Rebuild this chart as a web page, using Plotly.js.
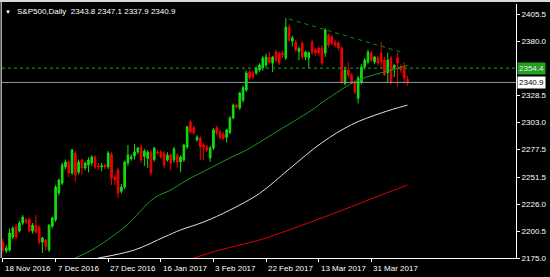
<!DOCTYPE html>
<html>
<head>
<meta charset="utf-8">
<script src="https://cdn.plot.ly/plotly-3.0.1.min.js"></script>
<style>html,body{margin:0;padding:0;background:#000;}#chart{width:550px;height:277px;}</style>
</head>
<body>
<div id="chart"></div>
<script>
// ---- Data ----
const opens = [2190,2181.6,2182.6,2194.8,2205,2200.5,2208,2211,2211.8,2200.5,
  2206,2204,2190,2192,2182.6,2205,2211,2236.4,2245.8,2261,
  2265.7,2255.3,2274,2256,2267.6,2260,2262.8,2264.7,2270.4,2262,
  2261,2262.8,2261,2273,2251.5,2258.1,2238,2242,2264.7,2269,
  2271.4,2275.1,2279.9,2271,2269,2275,2268,2275,2275.1,2274.2,
  2267.6,2272.3,2267.6,2272,2265.7,2267.6,2279.9,2303.5,2298,2286.5,
  2288.4,2281.8,2280,2269.5,2279,2298,2294,2292,2289,2293.5,
  2307.3,2319.5,2316.7,2324,2333.7,2350.7,2350,2349.8,2352.6,2354.5,
  2357.3,2364.8,2359,2369.6,2368.6,2368.7,2363.9,2393.2,2380,2379,
  2370,2378,2364.9,2364,2379,2371.5,2373.4,2373.4,2368.6,2385.7,
  2383.8,2379,2378.1,2373.4,2340,2352.6,2347.9,2341.3,2326,2341.3,
  2355.4,2360.2,2368.7,2360.2,2364,2368.7,2362,2350,2363.9,2355,
  2363.9,2356,2354.5,2343.8];
const highs = [2193,2187,2203,2205,2207,2210,2215.6,2213,2213,2208,
  2215.6,2206,2195,2193,2207,2214,2244,2250,2265,2268,
  2268,2278,2276,2268,2269,2266,2270,2272,2272,2265,
  2265,2264,2276,2275,2254,2260,2245,2267,2281.8,2273,
  2282.7,2280,2282,2278,2277,2277,2280,2277,2277,2276,
  2275,2274,2280,2274,2272,2283,2300,2305,2300,2291,
  2290,2284,2282,2281,2298,2300,2296,2294,2297,2309,
  2321,2321,2332,2338,2352,2353,2352,2356,2359,2366,
  2368,2369.6,2366,2372,2370,2371,2401.7,2396,2385,2381,
  2374.5,2380,2371,2370,2381,2373,2375,2376,2392,2387,
  2386,2381,2380,2375,2356,2360.2,2350,2343,2347,2358,
  2364,2372,2371,2366,2366,2379,2365,2368.7,2366,2358,
  2369,2358,2360,2347.1];
const lows = [2180,2179.7,2181,2193,2193,2199,2206,2207,2199,2198,
  2198,2188,2179.7,2182,2180.7,2203,2209,2234,2244,2259,
  2251.5,2253,2247,2254,2253.4,2258,2256,2262,2259,2258,
  2257,2259,2259,2244,2244,2231.7,2236,2240,2262,2267,
  2268,2273,2265,2262,2260,2253,2266,2273,2269,2260,
  2266,2258,2265,2260,2256,2266,2278,2292,2291,2285,
  2267.6,2267.6,2275,2266,2277,2291,2287,2287,2284,2292,
  2306,2316,2315,2322,2332,2343,2344,2348,2351,2352,
  2355,2358,2350.7,2360,2357.3,2364,2362,2379,2375,2370,
  2362,2363,2362,2354.5,2367,2366,2366,2357,2365,2374,
  2376,2374,2371,2339,2338,2345,2339,2329.9,2321,2339,
  2353,2358,2360,2358,2357,2354.5,2347,2341.3,2339,2346,
  2337,2350,2340,2337.9];
const closes = [2182.6,2184.4,2198.6,2203.3,2194.8,2208,2213.7,2209,2200.5,2206,
  2199.5,2190,2194,2186,2206,2212.8,2242,2248.7,2262.8,2265.7,
  2255.3,2277,2253.4,2265.7,2260,2264.7,2267.6,2270.4,2261,2261,
  2262,2261,2274.2,2250.6,2248.7,2236.4,2242,2265.7,2272.3,2270.4,
  2275.2,2278.9,2267.6,2276,2275,2255.3,2278.9,2274.2,2270.4,2262.8,
  2272.3,2264.7,2278,2265.7,2270.4,2281.8,2298.8,2294,2293,2289.3,
  2279.9,2279.9,2277,2279,2296,2293,2289,2288,2296,2307.3,
  2319.5,2318,2330.9,2336,2349.8,2345,2346,2354.5,2357.3,2363.9,
  2364.8,2360,2364.8,2362,2359.2,2366.8,2393.2,2380.9,2383,2371.5,
  2373,2365,2369.6,2369,2369.6,2368.7,2368.7,2359.2,2390.4,2376.2,
  2378.1,2376,2373.4,2341.3,2352.6,2347.9,2341.3,2331.8,2345,2355.4,
  2362,2369.6,2362,2364.9,2359.2,2360.2,2347.9,2362,2341.3,2357,
  2359.2,2352.6,2345,2340.9];

// Moving averages (bar index, value)
const maGreenX = [22,27,37,46,51,56,63,69,74,82,94,98,108,118,123];
const maGreenY = [2175,2182.6,2204.3,2231.7,2239.2,2248.7,2260,2269.5,2277,2292,2315,2324,2343,2352.5,2357];
const maWhiteX = [29,40,49,54,61,69,78,87,97,106,115,123];
const maWhiteY = [2175,2182.6,2194.8,2201.5,2209,2220.3,2236,2259,2284,2301,2312,2319.5];
const maRedX = [57,66,78,91,103,115,123];
const maRedY = [2174,2182.6,2192,2206,2220,2234.5,2244];

// Trendline anchors
const trendX = [87,122];
const trendY = [2400.8,2368.7];

// Levels
const levelLine = 2354.4;
const bidLine = 2340.9;

// Axis ticks
const xTickIdx = [0,16,32,48,64,80,96,112];
const xTickText = ['18 Nov 2016','7 Dec 2016','27 Dec 2016','16 Jan 2017','3 Feb 2017','22 Feb 2017','13 Mar 2017','31 Mar 2017'];
const yTickVals = [2175.0,2200.5,2226.0,2251.5,2277.5,2303.0,2328.5,2380.0,2405.5];

const titleText = 'S&P500,Daily  2343.8 2347.1 2337.9 2340.9';

// ---- Build ----
const idx = opens.map((_, i) => i);
const FONT = 'Liberation Sans, Arial, sans-serif';

const traces = [
  {type:'scatter', mode:'lines', x:maRedX, y:maRedY, line:{color:'#e00000', width:1, shape:'spline'}, hoverinfo:'skip'},
  {type:'scatter', mode:'lines', x:maWhiteX, y:maWhiteY, line:{color:'#e4dcea', width:1, shape:'spline'}, hoverinfo:'skip'},
  {type:'scatter', mode:'lines', x:maGreenX, y:maGreenY, line:{color:'#1a9a1a', width:1, shape:'spline'}, hoverinfo:'skip'},
  {type:'scatter', mode:'lines', x:trendX, y:trendY, line:{color:'#109010', width:1, dash:'4px,4px'}, hoverinfo:'skip'},
  {type:'candlestick', x:idx, open:opens, high:highs, low:lows, close:closes,
   increasing:{line:{color:'#10e010', width:1}, fillcolor:'#10e010'},
   decreasing:{line:{color:'#f00000', width:1}, fillcolor:'#f00000'},
   whiskerwidth:0, hoverinfo:'skip'}
];

const xLabelAnns = xTickIdx.map((v, i) => ({
  xref:'x', yref:'paper', x:v, y:-0.04, xanchor:'left', yanchor:'middle', xshift:0,
  text:xTickText[i], showarrow:false, font:{family:FONT, color:'#ffffff', size:8}
}));

const layout = {
  width:550, height:277,
  margin:{l:2, r:34, t:4, b:19},
  paper_bgcolor:'#000', plot_bgcolor:'#000',
  showlegend:false,
  font:{family:FONT, color:'#ffffff', size:8},
  xaxis:{range:[-0.3,156], tickvals:xTickIdx, showticklabels:false,
    ticks:'outside', ticklen:3, tickcolor:'#ffffff', tickwidth:1,
    showline:true, linecolor:'#ffffff', linewidth:1, showgrid:false, zeroline:false,
    rangeslider:{visible:false}, fixedrange:true},
  yaxis:{side:'right', range:[2175,2415], tickvals:yTickVals,
    ticktext:yTickVals.map(v => v.toFixed(1)),
    ticks:'outside', ticklen:3, tickcolor:'#ffffff', tickwidth:1,
    showline:true, linecolor:'#ffffff', linewidth:1, showgrid:false, zeroline:false,
    tickfont:{family:FONT, color:'#ffffff', size:8}, fixedrange:true},
  shapes:[
    {type:'line', xref:'paper', yref:'y', x0:0, x1:1, y0:levelLine, y1:levelLine,
     line:{color:'#10b010', width:1, dash:'3px,3px'}},
    {type:'line', xref:'paper', yref:'y', x0:0, x1:1, y0:bidLine, y1:bidLine,
     line:{color:'#8a9aaa', width:1}},
    {type:'line', xref:'paper', yref:'paper', x0:-0.0015, x1:-0.0015, y0:0, y1:1.02,
     line:{color:'#b0b0b0', width:1.5}},
    {type:'rect', xref:'paper', yref:'paper', x0:-0.01, x1:1.1, y0:1.0075, y1:1.02,
     fillcolor:'#d8d8d8', line:{width:0}}
  ],
  annotations:[
    {xref:'paper', yref:'paper', x:0.0245, y:0.969, xanchor:'left', yanchor:'middle',
     text:titleText, showarrow:false, font:{family:FONT, color:'#ffffff', size:8}},
    {xref:'paper', yref:'paper', x:0.012, y:0.969, xanchor:'center', yanchor:'middle',
     text:'▼', showarrow:false, font:{family:FONT, color:'#ffffff', size:6}},
    {xref:'paper', yref:'y', x:1.002, y:levelLine, xanchor:'left', yanchor:'middle',
     text:levelLine.toFixed(1), showarrow:false, bgcolor:'#22a022', borderpad:1,
     font:{family:FONT, color:'#e8e8e8', size:8}},
    {xref:'paper', yref:'y', x:1.002, y:bidLine, xanchor:'left', yanchor:'middle',
     text:bidLine.toFixed(1), showarrow:false, bgcolor:'#ffffff', borderpad:1,
     font:{family:FONT, color:'#000000', size:8}}
  ].concat(xLabelAnns)
};

Plotly.newPlot('chart', traces, layout, {staticPlot:true, displayModeBar:false});
</script>
</body>
</html>
